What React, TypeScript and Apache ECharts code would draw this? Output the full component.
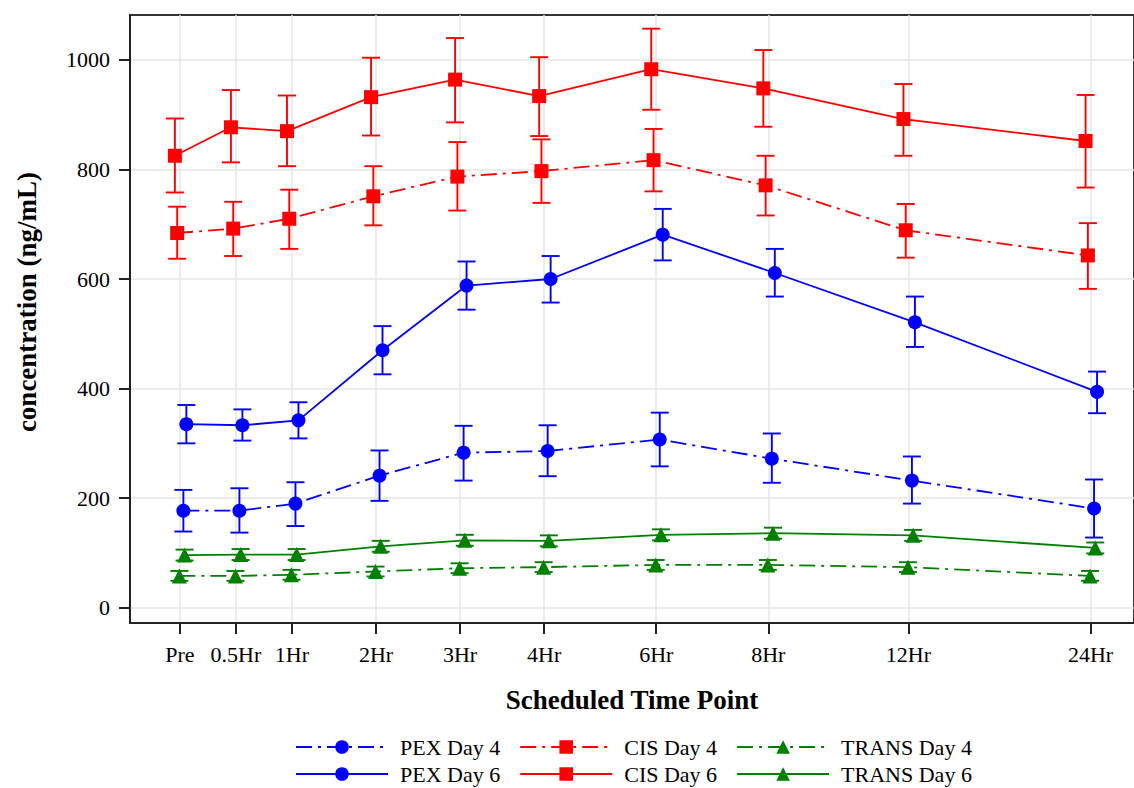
import React, { useEffect, useRef } from "react";
import * as echarts from "echarts";

const timeLabels = ["Pre", "0.5Hr", "1Hr", "2Hr", "3Hr", "4Hr", "6Hr", "8Hr", "12Hr", "24Hr"];
const timePos = [0, 2, 4, 7, 10, 13, 17, 21, 26, 32.5];
const yTicks = [0, 200, 400, 600, 800, 1000];

const pexDay4Mean = [177, 177, 190, 241, 283, 286, 307, 272, 232, 181];
const pexDay4Lower = [139, 137, 149, 195, 232, 240, 258, 228, 190, 128];
const pexDay4Upper = [215, 218, 229, 287, 332, 333, 356, 318, 276, 234];

const pexDay6Mean = [335, 333, 342, 470, 588, 600, 681, 611, 521, 394];
const pexDay6Lower = [300, 305, 309, 426, 544, 557, 634, 568, 476, 355];
const pexDay6Upper = [370, 362, 375, 514, 632, 642, 728, 655, 568, 431];

const cisDay4Mean = [684, 692, 710, 751, 787, 797, 817, 771, 689, 643];
const cisDay4Lower = [637, 642, 655, 698, 725, 739, 760, 716, 639, 582];
const cisDay4Upper = [732, 741, 763, 806, 850, 855, 874, 825, 737, 702];

const cisDay6Mean = [825, 877, 870, 932, 964, 934, 983, 948, 892, 852];
const cisDay6Lower = [758, 813, 806, 862, 886, 861, 909, 878, 825, 767];
const cisDay6Upper = [893, 945, 935, 1004, 1040, 1005, 1057, 1018, 956, 936];

const transDay4Mean = [58, 58, 60, 66, 72, 74, 78, 78, 74, 58];
const transDay4Lower = [49, 49, 51, 57, 63, 65, 69, 69, 65, 49];
const transDay4Upper = [67, 67, 69, 75, 81, 83, 87, 87, 83, 67];

const transDay6Mean = [96, 97, 97, 112, 123, 122, 133, 136, 132, 109];
const transDay6Lower = [86, 87, 87, 102, 113, 112, 123, 126, 122, 99];
const transDay6Upper = [106, 107, 107, 122, 133, 132, 143, 146, 142, 119];

const FONT = '"Liberation Serif", "Times New Roman", serif';
const UNIT_PX = 28.08;
const DASHDOT = [16, 6, 3, 6];

type Group = {
  name: string;
  mean: number[];
  lower: number[];
  upper: number[];
  color: string;
  symbol: string;
  symbolSize: number;
  dashed: boolean;
  offsetPx: number;
};

const groups: Group[] = [
  { name: "PEX Day 4", mean: pexDay4Mean, lower: pexDay4Lower, upper: pexDay4Upper, color: "#0000ff", symbol: "circle", symbolSize: 14, dashed: true, offsetPx: 3.5 },
  { name: "CIS Day 4", mean: cisDay4Mean, lower: cisDay4Lower, upper: cisDay4Upper, color: "#ff0000", symbol: "rect", symbolSize: 14, dashed: true, offsetPx: -2.7 },
  { name: "TRANS Day 4", mean: transDay4Mean, lower: transDay4Lower, upper: transDay4Upper, color: "#008000", symbol: "triangle", symbolSize: 15, dashed: true, offsetPx: -0.5 },
  { name: "PEX Day 6", mean: pexDay6Mean, lower: pexDay6Lower, upper: pexDay6Upper, color: "#0000ff", symbol: "circle", symbolSize: 14, dashed: false, offsetPx: 6.5 },
  { name: "CIS Day 6", mean: cisDay6Mean, lower: cisDay6Lower, upper: cisDay6Upper, color: "#ff0000", symbol: "rect", symbolSize: 14, dashed: false, offsetPx: -5 },
  { name: "TRANS Day 6", mean: transDay6Mean, lower: transDay6Lower, upper: transDay6Upper, color: "#008000", symbol: "triangle", symbolSize: 15, dashed: false, offsetPx: 4.7 },
];

function buildOption() {
  const series: any[] = [];
  groups.forEach((g) => {
    const off = g.offsetPx / UNIT_PX;
    series.push({
      type: "custom",
      name: g.name + " err",
      z: 2,
      silent: true,
      data: timePos.map((t, i) => [t + off, g.lower[i], g.upper[i]]),
      encode: { x: 0, y: [1, 2] },
      renderItem: (params: any, api: any) => {
        const x = api.value(0);
        const lo = api.coord([x, api.value(1)]);
        const hi = api.coord([x, api.value(2)]);
        const half = 9;
        const style = { stroke: g.color, lineWidth: 1.9 };
        return {
          type: "group",
          children: [
            { type: "line", shape: { x1: lo[0], y1: lo[1], x2: hi[0], y2: hi[1] }, style },
            { type: "line", shape: { x1: lo[0] - half, y1: lo[1], x2: lo[0] + half, y2: lo[1] }, style },
            { type: "line", shape: { x1: hi[0] - half, y1: hi[1], x2: hi[0] + half, y2: hi[1] }, style },
          ],
        };
      },
    });
  });
  groups.forEach((g) => {
    const off = g.offsetPx / UNIT_PX;
    series.push({
      type: "line",
      name: g.name,
      z: 3,
      data: timePos.map((t, i) => [t + off, g.mean[i]]),
      symbol: g.symbol,
      symbolSize: g.symbolSize,
      itemStyle: { color: g.color },
      lineStyle: { color: g.color, width: 1.8, type: g.dashed ? DASHDOT : "solid" },
    });
  });

  const legendBase = {
    left: 295,
    padding: 0,
    itemWidth: 92,
    itemHeight: 17,
    itemGap: 19,
    selectedMode: false,
    textStyle: { fontFamily: FONT, fontSize: 22, lineHeight: 22, color: "#000", padding: [0, 0, 0, 7] },
  };

  return {
    animation: false,
    backgroundColor: "#fff",
    grid: {
      left: 130,
      right: -2,
      top: 15,
      bottom: 165,
      show: true,
      borderColor: "#333",
      borderWidth: 2,
    },
    legend: [
      { ...legendBase, top: 736, data: groups.slice(0, 3).map((g) => g.name) },
      { ...legendBase, top: 763, data: groups.slice(3).map((g) => g.name) },
    ],
    xAxis: {
      type: "value",
      min: -1.78,
      max: 34.05,
      name: "Scheduled Time Point",
      nameLocation: "middle",
      nameGap: 63,
      nameTextStyle: { fontFamily: FONT, fontSize: 27, fontWeight: "bold", color: "#000" },
      axisLine: { show: true, onZero: false, lineStyle: { color: "#222", width: 2 } },
      axisTick: { show: true, length: 11, customValues: timePos, lineStyle: { color: "#222", width: 2 } },
      axisLabel: {
        customValues: timePos,
        margin: 20,
        fontFamily: FONT,
        fontSize: 22,
        color: "#000",
        formatter: (v: number) => {
          const i = timePos.findIndex((p) => Math.abs(p - v) < 1e-6);
          return i >= 0 ? timeLabels[i] : "";
        },
      },
      splitLine: { show: true, lineStyle: { color: "#e6e6e6", width: 1.5 } },
    },
    yAxis: {
      type: "value",
      min: -28,
      max: 1082,
      name: "concentration (ng/mL)",
      nameLocation: "middle",
      nameGap: 90,
      nameTextStyle: { fontFamily: FONT, fontSize: 27, fontWeight: "bold", color: "#000", padding: [0, 0, 0, 34] },
      axisLine: { show: true, onZero: false, lineStyle: { color: "#222", width: 2 } },
      axisTick: { show: true, length: 11, customValues: yTicks, lineStyle: { color: "#222", width: 2 } },
      axisLabel: {
        customValues: yTicks,
        margin: 20,
        fontFamily: FONT,
        fontSize: 22,
        color: "#000",
        formatter: (v: number) => String(v),
      },
      splitLine: { show: true, lineStyle: { color: "#e6e6e6", width: 1.5 } },
    },
    series,
  };
}

export default function App() {
  const ref = useRef<HTMLDivElement>(null);
  useEffect(() => {
    if (!ref.current) return;
    const chart = echarts.init(ref.current, undefined, { renderer: "svg" });
    chart.setOption(buildOption() as any);
    return () => chart.dispose();
  }, []);
  return (
    <div
      ref={ref}
      style={{ position: "absolute", left: 0, top: 0, width: 1134, height: 788, background: "#fff" }}
    />
  );
}
